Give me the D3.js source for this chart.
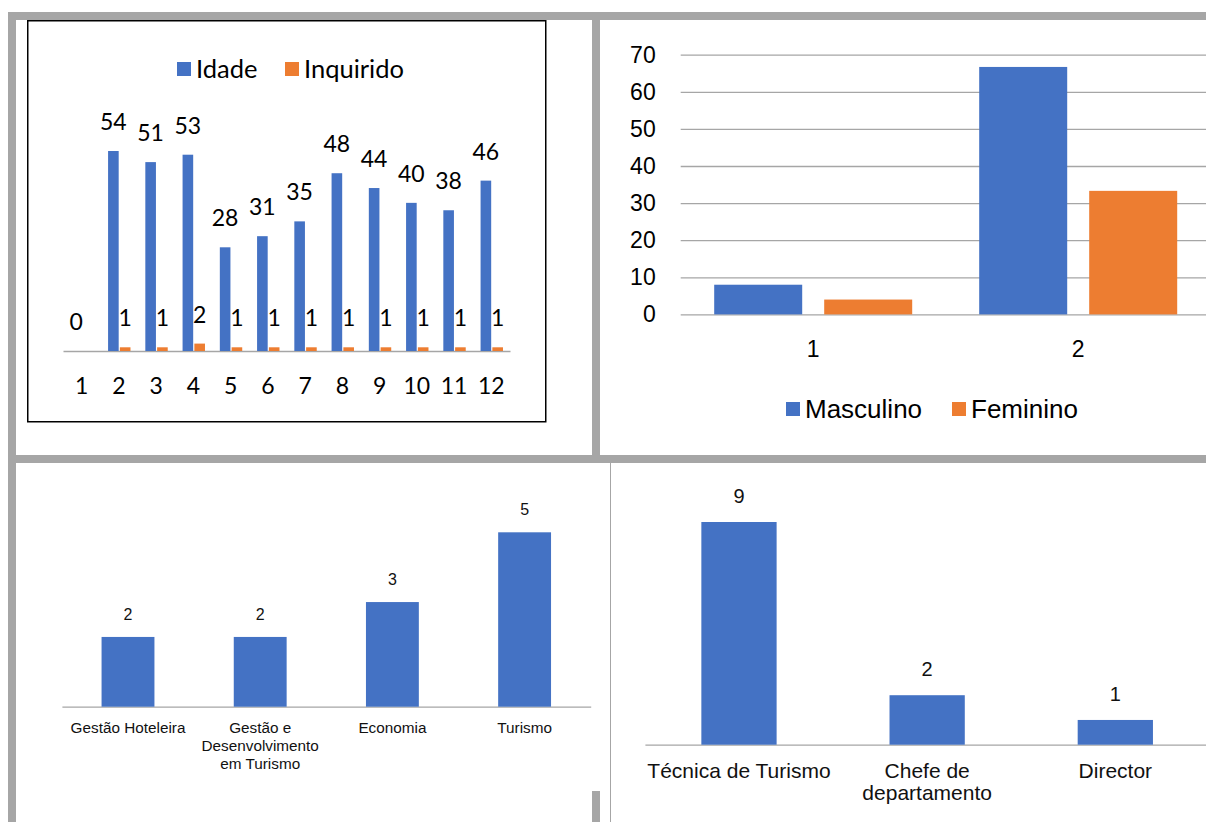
<!DOCTYPE html>
<html>
<head>
<meta charset="utf-8">
<script src="https://cdn.jsdelivr.net/npm/d3@7"></script>
<style>
  html, body { margin: 0; padding: 0; background: #fff; }
  svg { display: block; }
</style>
</head>
<body>
<svg id="page" width="1206" height="822"></svg>
<script>
// ---- Idade / Inquirido (per respondent) ----
const respondentes = ["1","2","3","4","5","6","7","8","9","10","11","12"];
const idade = [0, 54, 51, 53, 28, 31, 35, 48, 44, 40, 38, 46];
const inquirido = [null, 1, 1, 2, 1, 1, 1, 1, 1, 1, 1, 1];

// ---- Sexo ----
const sexoGrupos = ["1", "2"];
const masculino = [8, 66.7];
const feminino = [4, 33.3];
const sexoTicks = [0, 10, 20, 30, 40, 50, 60, 70];

// ---- Formação ----
const cursos = ["Gestão Hoteleira", "Gestão e Desenvolvimento em Turismo", "Economia", "Turismo"];
const cursoValores = [2, 2, 3, 5];

// ---- Cargo ----
const cargos = ["Técnica de Turismo", "Chefe de departamento", "Director"];
const cargoValores = [9, 2, 1];

const BLUE = "#4472C4", ORANGE = "#ED7D31", FRAME = "#a6a6a6", AXIS = "#a6a6a6";
const svg = d3.select("#page");

// ---------- page frame ----------
const frame = svg.append("g");
frame.append("rect").attr("x", 8).attr("y", 12).attr("width", 1198).attr("height", 8).attr("fill", FRAME);
frame.append("rect").attr("x", 8).attr("y", 12).attr("width", 8).attr("height", 810).attr("fill", FRAME);
frame.append("rect").attr("x", 592).attr("y", 12).attr("width", 8).attr("height", 451).attr("fill", FRAME);
frame.append("rect").attr("x", 8).attr("y", 455).attr("width", 1198).attr("height", 8).attr("fill", FRAME);
frame.append("rect").attr("x", 592).attr("y", 791).attr("width", 8).attr("height", 31).attr("fill", FRAME);
frame.append("line").attr("x1", 610.5).attr("x2", 610.5).attr("y1", 463).attr("y2", 822)
  .attr("stroke", FRAME).attr("stroke-width", 1);

// helper: wrap tick text to a width
function wrap(sel, width, lineHeight) {
  sel.each(function() {
    const text = d3.select(this);
    const words = text.text().split(/\s+/);
    const y = text.attr("y");
    text.text(null);
    let line = [];
    let lineNo = 0;
    let tspan = text.append("tspan").attr("x", 0).attr("y", y);
    for (const w of words) {
      line.push(w);
      tspan.text(line.join(" "));
      if (tspan.node().getComputedTextLength() > width && line.length > 1) {
        line.pop();
        tspan.text(line.join(" "));
        line = [w];
        lineNo++;
        tspan = text.append("tspan").attr("x", 0).attr("y", +y + lineNo * lineHeight).text(w);
      }
    }
  });
}

// ---------- chart 1: Idade / Inquirido ----------
(function() {
  const g = svg.append("g").style("font-family", "Lato, 'Open Sans', sans-serif");
  g.append("rect").attr("x", 27.75).attr("y", 20.75).attr("width", 518).attr("height", 401)
    .attr("fill", "#fff").attr("stroke", "#000").attr("stroke-width", 1.5);

  const x = d3.scaleBand().domain(respondentes).range([63, 510]);
  const x1 = d3.scaleBand().domain(["Idade", "Inquirido"]).range([-10.8, 11.6]).paddingInner(0.1);
  const y = d3.scaleLinear().domain([0, 54]).range([351, 151]);

  const axis = g.append("g").attr("transform", "translate(0,351)")
    .call(d3.axisBottom(x).tickSize(0).tickSizeOuter(0).tickPadding(43));
  axis.select(".domain").attr("stroke", AXIS).attr("stroke-width", 1.5);
  axis.selectAll("text").style("font-size", "23px").style("font-family", "Lato, sans-serif")
    .attr("fill", "#000").attr("dy", "0");

  const rows = respondentes.map((c, i) => ({ c, idade: idade[i], inq: inquirido[i] }));

  g.selectAll(".b1").data(rows).join("rect")
    .attr("x", d => x(d.c) + x.bandwidth() / 2 + x1("Idade"))
    .attr("width", x1.bandwidth())
    .attr("y", d => y(d.idade))
    .attr("height", d => y(0) - y(d.idade))
    .attr("fill", BLUE);
  g.selectAll(".b2").data(rows.filter(d => d.inq != null)).join("rect")
    .attr("x", d => x(d.c) + x.bandwidth() / 2 + x1("Inquirido"))
    .attr("width", x1.bandwidth())
    .attr("y", d => y(d.inq))
    .attr("height", d => y(0) - y(d.inq))
    .attr("fill", ORANGE);

  g.selectAll(".l1").data(rows).join("text")
    .attr("x", d => x(d.c) + x.bandwidth() / 2 + x1("Idade") + x1.bandwidth() / 2)
    .attr("y", d => y(d.idade) - 21)
    .attr("text-anchor", "middle").style("font-size", "23px").attr("fill", "#000")
    .text(d => d.idade);
  g.selectAll(".l2").data(rows.filter(d => d.inq != null)).join("text")
    .attr("x", d => x(d.c) + x.bandwidth() / 2 + x1("Inquirido") + x1.bandwidth() / 2)
    .attr("y", d => y(d.inq) - 21)
    .attr("text-anchor", "middle").style("font-size", "23px").attr("fill", "#000")
    .text(d => d.inq);

  // legend
  const leg = [["Idade", BLUE, 177], ["Inquirido", ORANGE, 285]];
  leg.forEach(([name, col, lx]) => {
    g.append("rect").attr("x", lx).attr("y", 62).attr("width", 14).attr("height", 14).attr("fill", col);
    g.append("text").attr("x", lx + 19).attr("y", 78).style("font-size", "25.5px").attr("fill", "#000").text(name);
  });
})();

// ---------- chart 2: Masculino / Feminino ----------
(function() {
  const g = svg.append("g").style("font-family", "'Liberation Sans', Arial, sans-serif");
  const x = d3.scaleBand().domain(sexoGrupos).range([680.7, 1210.7]);
  const x1 = d3.scaleBand().domain(["Masculino", "Feminino"]).range([33.5, 231.5]).paddingInner(0.2);
  const y = d3.scaleLinear().domain([0, 70]).range([314.4, 54.7]);

  const yAxis = g.append("g").attr("transform", "translate(680.7,0)")
    .call(d3.axisLeft(y).tickValues(sexoTicks).tickSize(-(1206 - 680.7)).tickPadding(25));
  yAxis.select(".domain").remove();
  yAxis.selectAll(".tick line").attr("stroke", AXIS).attr("stroke-width", 1.3);
  yAxis.selectAll("text").style("font-size", "23px").attr("fill", "#000")
    .style("font-family", "'Liberation Sans', Arial, sans-serif");

  const xAxis = g.append("g").attr("transform", "translate(0,314.4)")
    .call(d3.axisBottom(x).tickSize(0).tickPadding(26));
  xAxis.select(".domain").remove();
  xAxis.selectAll("text").style("font-size", "23px").attr("fill", "#000")
    .style("font-family", "'Liberation Sans', Arial, sans-serif");

  const rows = sexoGrupos.map((c, i) => ({ c, Masculino: masculino[i], Feminino: feminino[i] }));
  [["Masculino", BLUE], ["Feminino", ORANGE]].forEach(([k, col]) => {
    g.selectAll(".bar-" + k).data(rows).join("rect")
      .attr("x", d => x(d.c) + x1(k))
      .attr("width", x1.bandwidth())
      .attr("y", d => y(d[k]))
      .attr("height", d => y(0) - y(d[k]))
      .attr("fill", col);
  });

  const leg = [["Masculino", BLUE, 786], ["Feminino", ORANGE, 952]];
  leg.forEach(([name, col, lx]) => {
    g.append("rect").attr("x", lx).attr("y", 402).attr("width", 14).attr("height", 14).attr("fill", col);
    g.append("text").attr("x", lx + 19).attr("y", 418).style("font-size", "26px").attr("fill", "#000").text(name);
  });
})();

// ---------- chart 3: Formação ----------
(function() {
  const g = svg.append("g").style("font-family", "'Liberation Sans', Arial, sans-serif");
  const x = d3.scaleBand().domain(cursos).range([61.9, 590.7]).paddingInner(0.6).paddingOuter(0.3);
  const y = d3.scaleLinear().domain([0, 5]).range([706.7, 532.3]);

  const axis = g.append("g").attr("transform", "translate(0,706.7)")
    .call(d3.axisBottom(x).tickSize(0).tickSizeOuter(0).tickPadding(26));
  axis.select(".domain").attr("stroke", AXIS).attr("stroke-width", 1.3);
  axis.selectAll("text").style("font-size", "15.3px").attr("fill", "#111").attr("dy", 0)
    .style("font-family", "'Liberation Sans', Arial, sans-serif")
    .call(wrap, x.step(), 18.3);

  const rows = cursos.map((c, i) => ({ c, v: cursoValores[i] }));
  g.selectAll(".bar").data(rows).join("rect")
    .attr("x", d => x(d.c)).attr("width", x.bandwidth())
    .attr("y", d => y(d.v)).attr("height", d => y(0) - y(d.v))
    .attr("fill", BLUE);
  g.selectAll(".lbl").data(rows).join("text")
    .attr("x", d => x(d.c) + x.bandwidth() / 2).attr("y", d => y(d.v) - 17)
    .attr("text-anchor", "middle").style("font-size", "16px").attr("fill", "#111")
    .text(d => d.v);
})();

// ---------- chart 4: Cargo ----------
(function() {
  const g = svg.append("g").style("font-family", "'Liberation Sans', Arial, sans-serif");
  const x = d3.scaleBand().domain(cargos).range([644.9, 1209.4]).paddingInner(0.6).paddingOuter(0.3);
  const y = d3.scaleLinear().domain([0, 9]).range([744.7, 522]);

  const axis = g.append("g").attr("transform", "translate(0,744.7)")
    .call(d3.axisBottom(x).tickSize(0).tickSizeOuter(0).tickPadding(33.5));
  axis.select(".domain").attr("stroke", AXIS).attr("stroke-width", 1.3);
  axis.selectAll("text").style("font-size", "21px").attr("fill", "#111").attr("dy", 0)
    .style("font-family", "'Liberation Sans', Arial, sans-serif")
    .call(wrap, x.step(), 22);

  const rows = cargos.map((c, i) => ({ c, v: cargoValores[i] }));
  g.selectAll(".bar").data(rows).join("rect")
    .attr("x", d => x(d.c)).attr("width", x.bandwidth())
    .attr("y", d => y(d.v)).attr("height", d => y(0) - y(d.v))
    .attr("fill", BLUE);
  g.selectAll(".lbl").data(rows).join("text")
    .attr("x", d => x(d.c) + x.bandwidth() / 2).attr("y", d => y(d.v) - 19)
    .attr("text-anchor", "middle").style("font-size", "20px").attr("fill", "#111")
    .text(d => d.v);
})();
</script>
</body>
</html>
